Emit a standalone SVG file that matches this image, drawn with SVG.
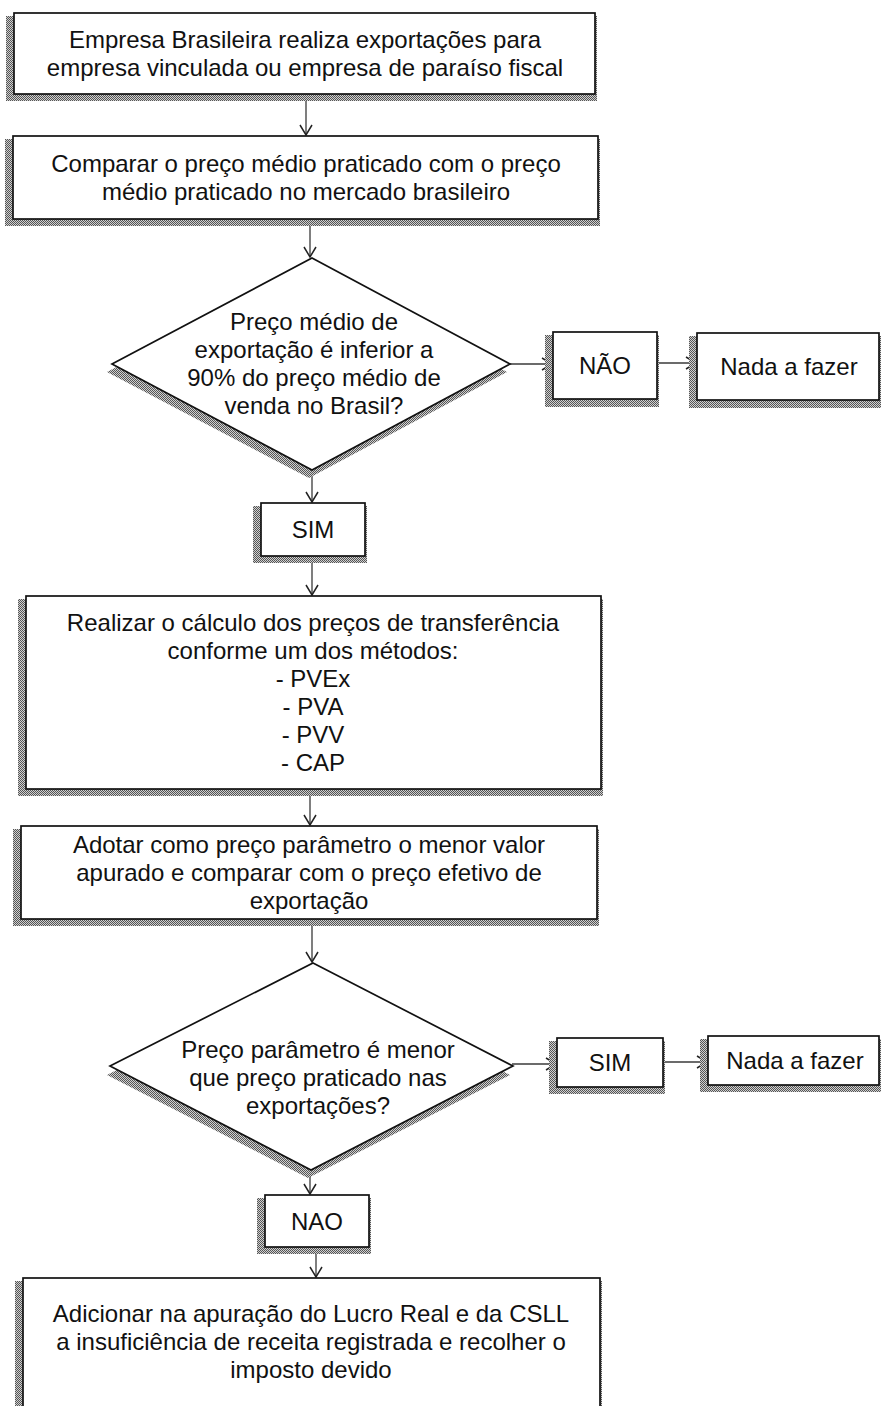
<svg xmlns="http://www.w3.org/2000/svg" width="881" height="1406" viewBox="0 0 881 1406">
  <style>
    .box { fill: #ffffff; stroke: #111111; stroke-width: 1.7; }
    .shadow { fill: url(#stipple); stroke: none; }
    .label { font-family: "Liberation Sans", Arial, sans-serif; font-size: 24px; fill: #111111; text-anchor: middle; }
    .link { stroke: #3a3a3a; stroke-width: 1.3; fill: none; marker-end: url(#arrow); }
  </style>
  <defs>
    <!-- dithered drop shadow -->
    <pattern id="stipple" patternUnits="userSpaceOnUse" width="2" height="2">
      <rect x="0" y="0" width="1" height="1" fill="#555555"/>
      <rect x="1" y="1" width="1" height="1" fill="#555555"/>
      <rect x="1" y="0" width="1" height="1" fill="#d0d0d0"/>
      <rect x="0" y="1" width="1" height="1" fill="#d0d0d0"/>
    </pattern>
    <!-- open V arrowhead -->
    <marker id="arrow" viewBox="0 0 12 14" refX="11" refY="7" markerWidth="12" markerHeight="14" markerUnits="userSpaceOnUse" orient="auto">
      <path d="M1,1 L11,7 L1,13" fill="none" stroke="#222222" stroke-width="1.5"/>
    </marker>
  </defs>

  <rect width="881" height="1406" fill="#ffffff"/>

  <!-- connectors -->
  <g id="connectors">
    <line class="link" x1="306" y1="94" x2="306" y2="135"/>
    <line class="link" x1="310" y1="219" x2="310" y2="257"/>
    <line class="link" x1="312" y1="470" x2="312" y2="502"/>
    <line class="link" x1="312" y1="556" x2="312" y2="595"/>
    <line class="link" x1="310" y1="789" x2="310" y2="825"/>
    <line class="link" x1="312" y1="919" x2="312" y2="962"/>
    <line class="link" x1="310" y1="1170" x2="310" y2="1194"/>
    <line class="link" x1="316" y1="1247" x2="316" y2="1277"/>
    <line class="link" x1="510" y1="364" x2="552" y2="364"/>
    <line class="link" x1="657" y1="363" x2="696" y2="363"/>
    <line class="link" x1="512" y1="1064" x2="556" y2="1064"/>
    <line class="link" x1="663" y1="1062" x2="707" y2="1062"/>
  </g>

  <!-- start: exports to related company -->
  <g id="start">
    <rect class="shadow" x="6" y="16" width="591" height="85"/>
    <rect class="box" x="14" y="13" width="581" height="81"/>
    <text class="label" x="305" y="48">Empresa Brasileira realiza exportações para</text>
    <text class="label" x="305" y="76">empresa vinculada ou empresa de paraíso fiscal</text>
  </g>

  <g id="compare">
    <rect class="shadow" x="5" y="139" width="595" height="87"/>
    <rect class="box" x="13" y="136" width="585" height="83"/>
    <text class="label" x="306" y="172">Comparar o preço médio praticado com o preço</text>
    <text class="label" x="306" y="200">médio praticado no mercado brasileiro</text>
  </g>

  <!-- decision: export price below 90% -->
  <g id="decision1">
    <polygon class="shadow" points="309,266 507,372 309,478 107,372"/>
    <polygon class="box" points="312,258 510,364 312,470 112,364"/>
    <text class="label" x="314" y="330">Preço médio de</text>
    <text class="label" x="314" y="358">exportação é inferior a</text>
    <text class="label" x="314" y="386">90% do preço médio de</text>
    <text class="label" x="314" y="414">venda no Brasil?</text>
  </g>

  <g id="no1">
    <rect class="shadow" x="545" y="335" width="114" height="72"/>
    <rect class="box" x="553" y="332" width="104" height="67"/>
    <text class="label" x="605" y="374">NÃO</text>
  </g>

  <g id="nothing1">
    <rect class="shadow" x="689" y="336" width="192" height="72"/>
    <rect class="box" x="697" y="333" width="182" height="67"/>
    <text class="label" x="789" y="375">Nada a fazer</text>
  </g>

  <g id="yes1">
    <rect class="shadow" x="253" y="506" width="114" height="57"/>
    <rect class="box" x="261" y="503" width="104" height="53"/>
    <text class="label" x="313" y="538">SIM</text>
  </g>

  <!-- transfer pricing methods -->
  <g id="methods">
    <rect class="shadow" x="18" y="599" width="585" height="197"/>
    <rect class="box" x="26" y="596" width="575" height="193"/>
    <text class="label" x="313" y="631">Realizar o cálculo dos preços de transferência</text>
    <text class="label" x="313" y="659">conforme um dos métodos:</text>
    <text class="label" x="313" y="687">- PVEx</text>
    <text class="label" x="313" y="715">- PVA</text>
    <text class="label" x="313" y="743">- PVV</text>
    <text class="label" x="313" y="771">- CAP</text>
  </g>

  <g id="parameter">
    <rect class="shadow" x="13" y="829" width="586" height="97"/>
    <rect class="box" x="21" y="826" width="576" height="93"/>
    <text class="label" x="309" y="853">Adotar como preço parâmetro o menor valor</text>
    <text class="label" x="309" y="881">apurado e comparar com o preço efetivo de</text>
    <text class="label" x="309" y="909">exportação</text>
  </g>

  <!-- decision: parameter price lower than export price -->
  <g id="decision2">
    <polygon class="shadow" points="310,971 510,1075 308,1178 107,1075"/>
    <polygon class="box" points="313,963 513,1066 311,1170 110,1066"/>
    <text class="label" x="318" y="1058">Preço parâmetro é menor</text>
    <text class="label" x="318" y="1086">que preço praticado nas</text>
    <text class="label" x="318" y="1114">exportações?</text>
  </g>

  <g id="yes2">
    <rect class="shadow" x="549" y="1041" width="116" height="53"/>
    <rect class="box" x="557" y="1038" width="106" height="49"/>
    <text class="label" x="610" y="1071">SIM</text>
  </g>

  <g id="nothing2">
    <rect class="shadow" x="700" y="1039" width="181" height="53"/>
    <rect class="box" x="708" y="1036" width="171" height="49"/>
    <text class="label" x="795" y="1069">Nada a fazer</text>
  </g>

  <g id="no2">
    <rect class="shadow" x="257" y="1198" width="114" height="56"/>
    <rect class="box" x="265" y="1195" width="104" height="52"/>
    <text class="label" x="317" y="1230">NAO</text>
  </g>

  <!-- final adjustment -->
  <g id="adjust">
    <rect class="shadow" x="15" y="1281" width="587" height="140"/>
    <rect class="box" x="23" y="1278" width="577" height="140"/>
    <text class="label" x="311" y="1322">Adicionar na apuração do Lucro Real e da CSLL</text>
    <text class="label" x="311" y="1350">a insuficiência de receita registrada e recolher o</text>
    <text class="label" x="311" y="1378">imposto devido</text>
  </g>
</svg>
